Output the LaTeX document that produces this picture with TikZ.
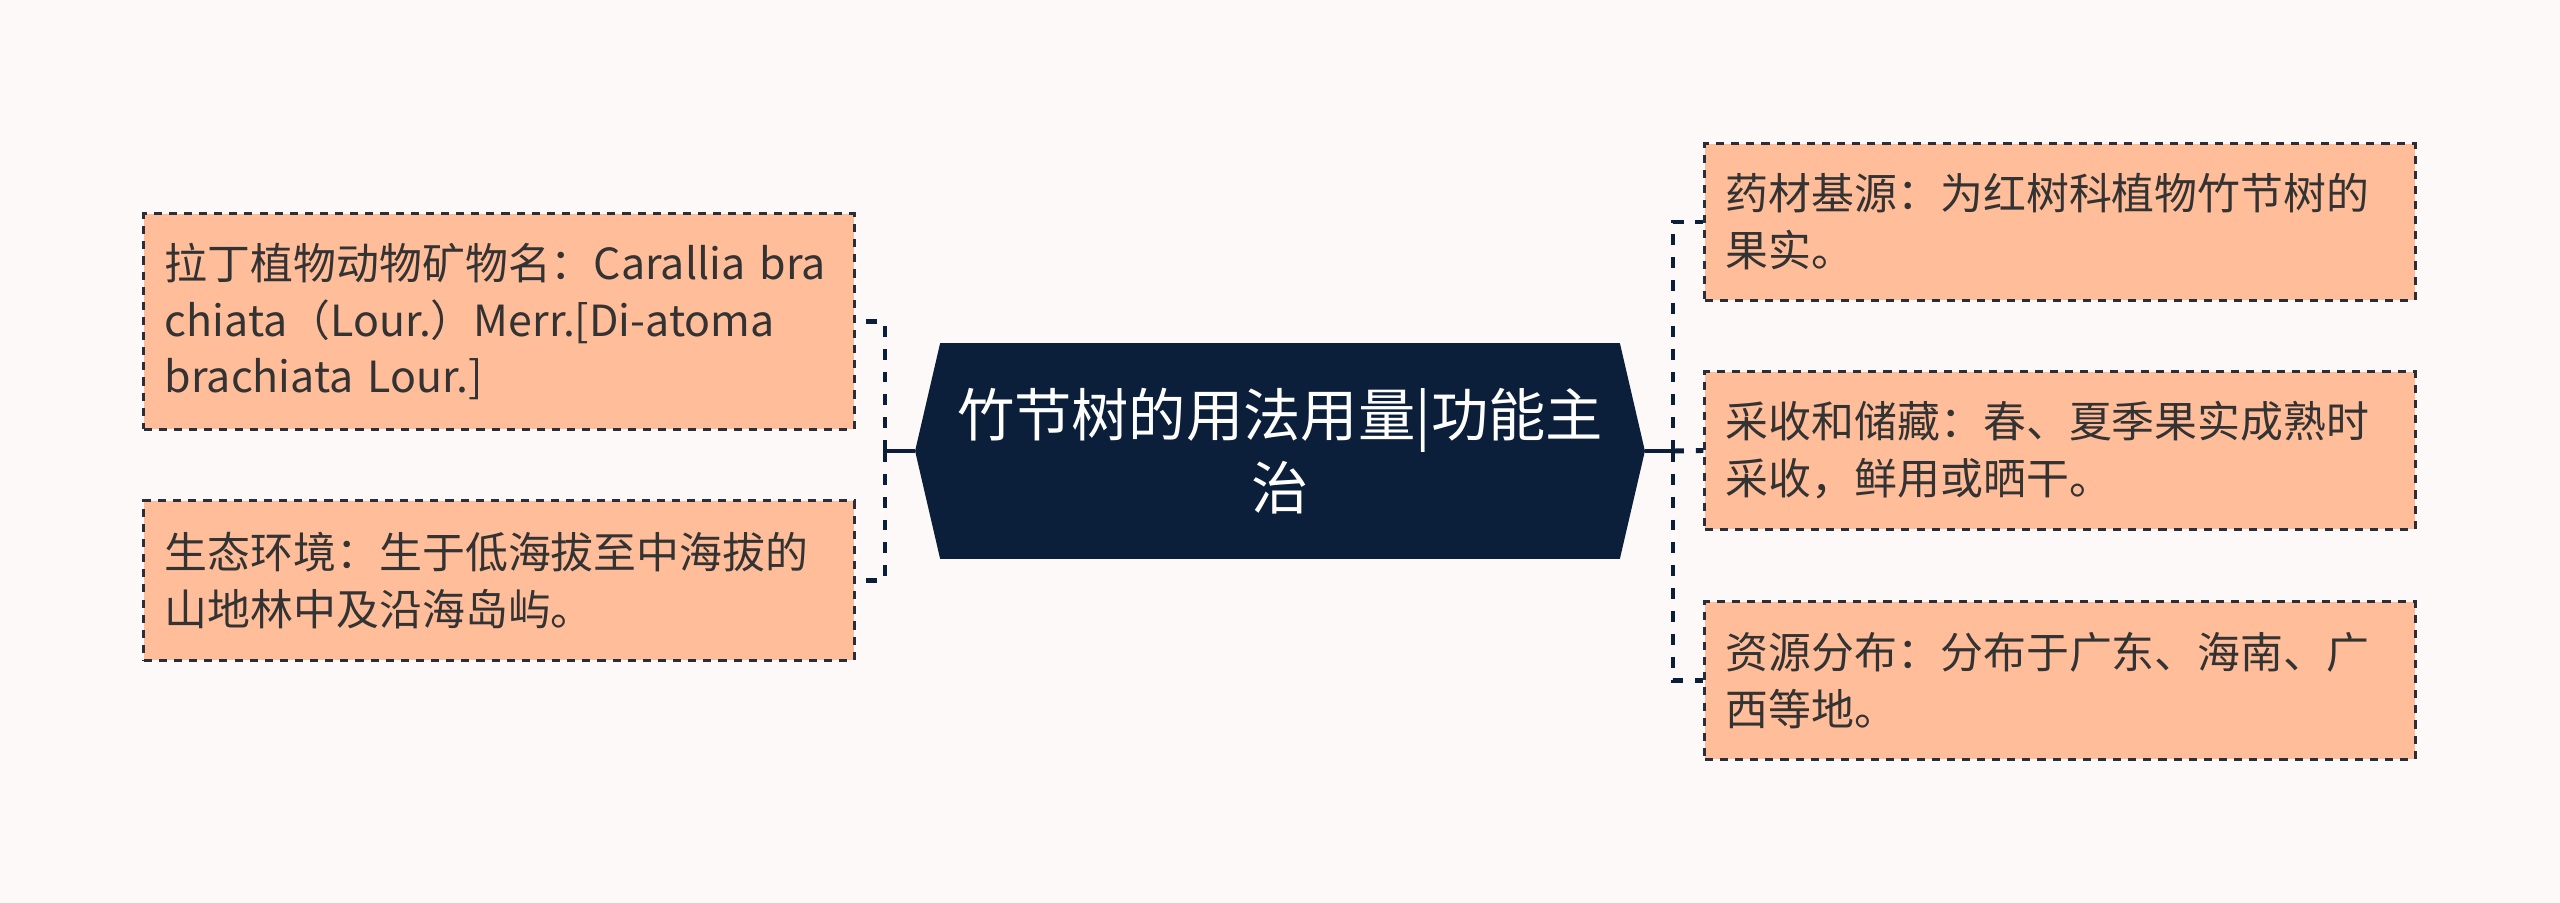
\documentclass[tikz,border=0pt]{standalone}
\usepackage{fontspec}
\setmainfont{Noto Sans CJK SC}
\usetikzlibrary{backgrounds}
\definecolor{pagebg}{HTML}{FDF9F8}
\definecolor{rootfill}{HTML}{0C1F3A}
\definecolor{leaffill}{HTML}{FFBD99}
\definecolor{leafline}{HTML}{2A2E38}
\definecolor{leaftext}{HTML}{333333}
\tikzset{
  rootnode/.style={minimum width=6.78cm, minimum height=2.14cm, inner sep=0pt,
    align=center, text=white, font=\fontsize{16.3pt}{20.8pt}\selectfont},
  leaf/.style={draw=leafline, fill=leaffill, line width=0.85pt, dash pattern=on 2.3pt off 2pt,
    text width=6.68cm, inner xsep=0.21cm, align=left, minimum width=7.1cm,
    text=leaftext, font=\fontsize{12.2pt}{16.2pt}\selectfont},
  trunk/.style={rootfill, line width=1.1pt},
  twig/.style={rootfill, line width=1.4pt, dash pattern=on 3.1pt off 3.4pt}
}
\begin{document}
\begin{tikzpicture}[x=0.01cm,y=-0.01cm]
\node[rootnode] (root) at (1280,451) {竹节树的用法用量|功能主\\治};
\begin{scope}[on background layer]
\fill[pagebg] (0,0) rectangle (2560,903);
\fill[rootfill] (root.north west) -- ([xshift=-0.25cm]root.west) -- (root.south west)
  -- (root.south east) -- ([xshift=0.25cm]root.east) -- (root.north east) -- cycle;
\end{scope}

\node[leaf, minimum height=2.15cm] (l1) at (499,321.5) {拉丁植物动物矿物名：Carallia bra\\chiata（Lour.）Merr.[Di-atoma\\brachiata Lour.]};
\node[leaf, minimum height=1.59cm] (l2) at (499,580.5) {生态环境：生于低海拔至中海拔的\\山地林中及沿海岛屿。};
\node[leaf, minimum height=1.56cm] (r1) at (2060,222) {药材基源：为红树科植物竹节树的\\果实。};
\node[leaf, minimum height=1.57cm] (r2) at (2060,450.5) {采收和储藏：春、夏季果实成熟时\\采收，鲜用或晒干。};
\node[leaf, minimum height=1.57cm] (r3) at (2060,680.5) {资源分布：分布于广东、海南、广\\西等地。};

\coordinate (rootW) at ([xshift=-0.25cm]root.west);
\coordinate (rootE) at ([xshift=0.25cm]root.east);
\coordinate (lj) at (885,451);
\coordinate (rj) at (1673,451);

\draw[trunk] (rootW) -- (lj);
\draw[twig] (lj) |- (l1.east);
\draw[twig] (lj) |- (l2.east);

\draw[trunk] (rootE) -- (rj);
\draw[twig] (rj) |- (r1.west);
\draw[twig] (rj) -- (r2.west);
\draw[twig] (rj) |- (r3.west);
\end{tikzpicture}
\end{document}
